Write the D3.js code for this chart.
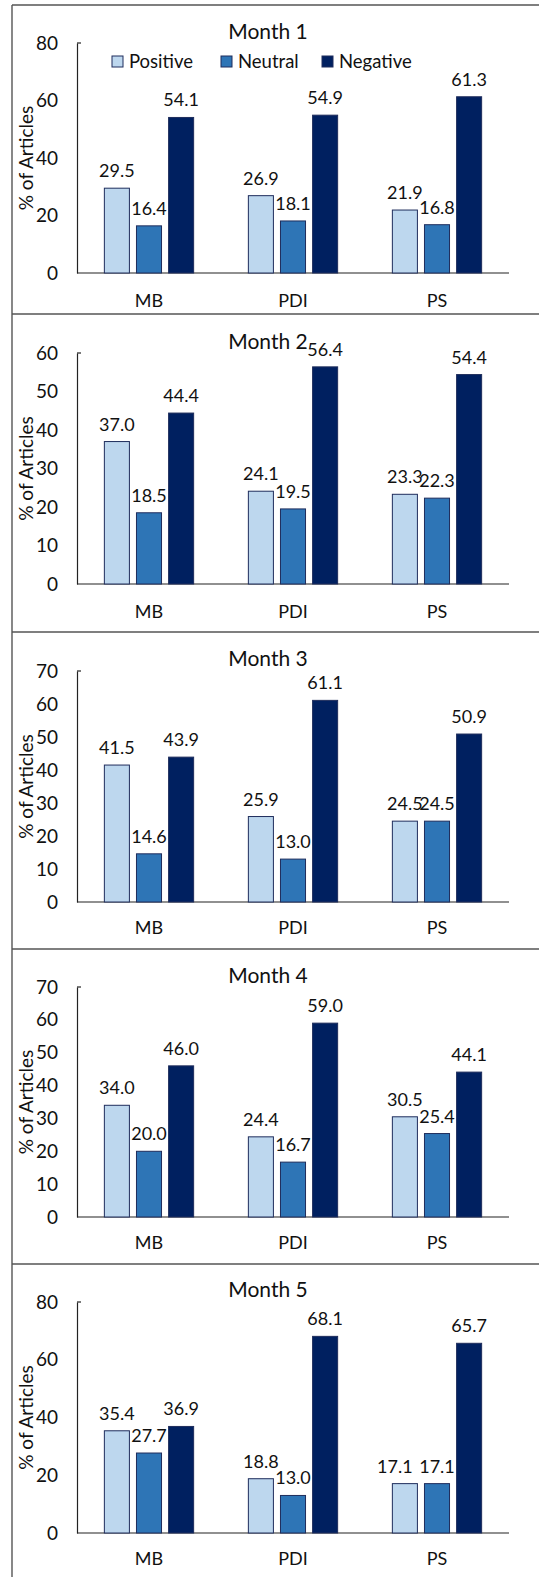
<!DOCTYPE html>
<html>
<head>
<meta charset="utf-8">
<script src="https://cdn.jsdelivr.net/npm/d3@7"></script>
<style>
  html, body { margin: 0; padding: 0; background: #fff; }
  svg { display: block; }
  text { font-family: Lato, "Open Sans", sans-serif; fill: #111; }
</style>
</head>
<body>
<svg id="chart" width="539" height="1577"></svg>
<script>
// Outlets shown in each panel
const outlets = ["MB", "PDI", "PS"];
const sentiments = ["Positive", "Neutral", "Negative"];
const sentimentColors = ["#BDD7EE", "#2E75B6", "#002060"];

// Share of articles (%) per outlet, one array per sentiment, per month
const month1Positive = [29.5, 26.9, 21.9];
const month1Neutral  = [16.4, 18.1, 16.8];
const month1Negative = [54.1, 54.9, 61.3];

const month2Positive = [37.0, 24.1, 23.3];
const month2Neutral  = [18.5, 19.5, 22.3];
const month2Negative = [44.4, 56.4, 54.4];

const month3Positive = [41.5, 25.9, 24.5];
const month3Neutral  = [14.6, 13.0, 24.5];
const month3Negative = [43.9, 61.1, 50.9];

const month4Positive = [34.0, 24.4, 30.5];
const month4Neutral  = [20.0, 16.7, 25.4];
const month4Negative = [46.0, 59.0, 44.1];

const month5Positive = [35.4, 18.8, 17.1];
const month5Neutral  = [27.7, 13.0, 17.1];
const month5Negative = [36.9, 68.1, 65.7];

// Y-axis ranges and tick steps per month
const panelTitles = ["Month 1", "Month 2", "Month 3", "Month 4", "Month 5"];
const yMax  = [80, 60, 70, 70, 80];
const yStep = [20, 10, 10, 10, 20];

const monthSeries = [
  [month1Positive, month1Neutral, month1Negative],
  [month2Positive, month2Neutral, month2Negative],
  [month3Positive, month3Neutral, month3Negative],
  [month4Positive, month4Neutral, month4Negative],
  [month5Positive, month5Neutral, month5Negative]
];

// Panel frames: top border, title, plot top/bottom, category-label line
const frames = [
  { top: 5,    title: 39,   plotTop: 43,   plotBottom: 273,  xLabel: 307 },
  { top: 314,  title: 349,  plotTop: 353,  plotBottom: 584,  xLabel: 618 },
  { top: 632,  title: 666,  plotTop: 671,  plotBottom: 902,  xLabel: 934 },
  { top: 949,  title: 983,  plotTop: 987,  plotBottom: 1217, xLabel: 1249 },
  { top: 1264, title: 1297, plotTop: 1302, plotBottom: 1533, xLabel: 1565 }
];

// Horizontal nudge for value labels that would collide (panel-outlet-sentiment)
const labelNudge = { "4-PS-0": -10 };

const svg = d3.select("#chart");
const W = 539;
const plotLeft = 77, plotRight = 509;

// Outer frame: left edge plus the separators between panels
svg.append("line").attr("x1", 12).attr("x2", 12).attr("y1", 5).attr("y2", 1577)
  .attr("stroke", "#555").attr("stroke-width", 1.4);
frames.forEach(f => {
  svg.append("line").attr("x1", 12).attr("x2", W).attr("y1", f.top).attr("y2", f.top)
    .attr("stroke", "#555").attr("stroke-width", 1.4);
});

const x0 = d3.scaleBand().domain(outlets).range([plotLeft, plotRight]).paddingInner(0.38).paddingOuter(0.19);
const x1 = d3.scaleBand().domain(sentiments).range([0, x0.bandwidth()]).paddingInner(0.22);

frames.forEach((f, i) => {
  const g = svg.append("g");
  const y = d3.scaleLinear().domain([0, yMax[i]]).range([f.plotBottom, f.plotTop]);

  // Title
  g.append("text").attr("x", 268).attr("y", f.title).attr("text-anchor", "middle")
    .style("font-size", "21px").text(panelTitles[i]);

  // Y axis
  const ticks = d3.range(0, yMax[i] + 0.001, yStep[i]);
  const yAxis = g.append("g").attr("transform", `translate(${plotLeft},0)`)
    .call(d3.axisLeft(y).tickValues(ticks).tickSize(0).tickSizeOuter(0).tickPadding(19));
  yAxis.select(".domain").attr("stroke", "#222").attr("stroke-width", 1.2);
  yAxis.selectAll(".tick text").style("font-size", "19px").attr("fill", "#111")
    .style("font-family", "Lato, sans-serif");
  // small cap at the top of the axis
  g.append("line").attr("x1", plotLeft).attr("x2", plotLeft + 4)
    .attr("y1", y(yMax[i])).attr("y2", y(yMax[i])).attr("stroke", "#222").attr("stroke-width", 1.2);

  // Axis title
  g.append("text")
    .attr("transform", `translate(33,${(f.plotTop + f.plotBottom) / 2}) rotate(-90)`)
    .attr("text-anchor", "middle").style("font-size", "19px").text("% of Articles");

  // X baseline
  g.append("line").attr("x1", plotLeft).attr("x2", plotRight)
    .attr("y1", f.plotBottom).attr("y2", f.plotBottom)
    .attr("stroke", "#222").attr("stroke-width", 1.2);

  // Category labels
  g.selectAll(".cat").data(outlets).join("text")
    .attr("x", d => x0(d) + x0.bandwidth() / 2).attr("y", f.xLabel)
    .attr("text-anchor", "middle").style("font-size", "18px").text(d => d);

  // Bars and value labels
  const rows = [];
  monthSeries[i].forEach((vals, s) => vals.forEach((v, k) => rows.push({ outlet: outlets[k], s, v })));

  g.selectAll(".bar").data(rows).join("rect")
    .attr("x", d => x0(d.outlet) + x1(sentiments[d.s]))
    .attr("width", x1.bandwidth())
    .attr("y", d => y(d.v))
    .attr("height", d => y(0) - y(d.v))
    .attr("fill", d => sentimentColors[d.s])
    .attr("stroke", "#1F2D5C").attr("stroke-width", 1);

  g.selectAll(".val").data(rows).join("text")
    .attr("x", d => x0(d.outlet) + x1(sentiments[d.s]) + x1.bandwidth() / 2
      + (labelNudge[`${i}-${d.outlet}-${d.s}`] || 0))
    .attr("y", d => y(d.v) - 11)
    .attr("text-anchor", "middle").style("font-size", "18px")
    .text(d => d.v.toFixed(1));

  // Legend in the first panel
  if (i === 0) {
    const legendX = [112, 221, 322];
    sentiments.forEach((s, k) => {
      g.append("rect").attr("x", legendX[k]).attr("y", 56).attr("width", 11).attr("height", 11)
        .attr("fill", sentimentColors[k]).attr("stroke", "#1F2D5C").attr("stroke-width", 1);
      g.append("text").attr("x", legendX[k] + 17).attr("y", 68)
        .style("font-size", "18.5px").text(s);
    });
  }
});
</script>
</body>
</html>
